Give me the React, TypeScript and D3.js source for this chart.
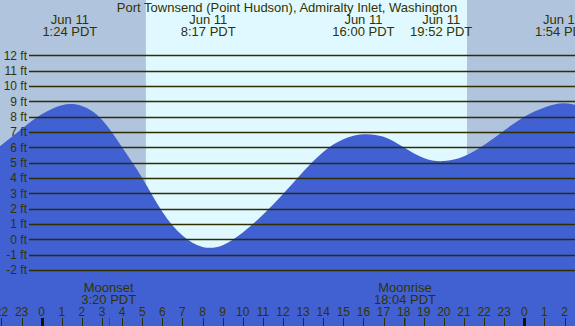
import { useRef, useEffect } from "react";
import * as d3 from "d3";

// tide heights (ft), hours from midnight Jun 11
const tideHours = [-3, -2, -1, 0, 1, 2, 3, 4, 5, 6, 7, 8, 9, 10, 11, 12, 13, 14, 15, 16, 17, 18, 19, 20, 21, 22, 23, 24, 25, 26, 27];
const tideFeet = [5.2, 6.15, 7.2, 8.15, 8.75, 8.7, 7.8, 6.0, 4.0, 1.8, 0.25, -0.5, -0.38, 0.45, 1.6, 2.95, 4.4, 5.7, 6.52, 6.85, 6.68, 6.0, 5.3, 5.1, 5.42, 6.15, 7.1, 8.0, 8.6, 8.87, 8.6];

const extremeHours = [1.4, 8.283, 16, 19.867, 25.9];
const extremeDates = ["Jun 11", "Jun 11", "Jun 11", "Jun 11", "Jun 12"];
const extremeTimes = ["1:24 PDT", "8:17 PDT", "16:00 PDT", "19:52 PDT", "1:54 PDT"];

const moonNames = ["Moonset", "Moonrise"];
const moonTimes = ["3:20 PDT", "18:04 PDT"];
const moonHours = [3.333, 18.067];

const sunriseHour = 5.18;
const sunsetHour = 21.15;

const feetTicks = [-2, -1, 0, 1, 2, 3, 4, 5, 6, 7, 8, 9, 10, 11, 12];
const hourTicks = d3.range(-2, 27);

const title = "Port Townsend (Point Hudson), Admiralty Inlet, Washington";

const TideChart = () => {
  const svgRef = useRef(null);

  useEffect(() => {
    d3.select(svgRef.current).selectAll("*").remove();

    const width = 575;
    const height = 326;
    const textColor = "#333300";
    const font = "'Liberation Sans', Arial, sans-serif";

    const x = d3.scaleLinear().domain([0, 24]).range([41.7, 524.3]);
    const y = d3.scaleLinear().domain([0, 12]).range([239.3, 55.3]);

    const svg = d3
      .select(svgRef.current)
      .attr("width", width)
      .attr("height", height);

    // night / day background
    svg.append("rect").attr("x", 0).attr("y", 0).attr("width", width).attr("height", height).attr("fill", "#b0c4de");
    svg
      .append("rect")
      .attr("x", x(sunriseHour))
      .attr("y", 0)
      .attr("width", x(sunsetHour) - x(sunriseHour))
      .attr("height", height)
      .attr("fill", "#e0f8ff");

    const area = d3
      .area()
      .x((d) => x(d[0]))
      .y0(height)
      .y1((d) => y(d[1]))
      .curve(d3.curveNatural);

    svg
      .append("path")
      .datum(tideHours.map((h, i) => [h, tideFeet[i]]))
      .attr("d", area)
      .attr("fill", "#4161d3");

    // grid lines + ft labels
    feetTicks.forEach((f) => {
      svg
        .append("line")
        .attr("x1", 29)
        .attr("x2", width)
        .attr("y1", Math.round(y(f)) + 0.5)
        .attr("y2", Math.round(y(f)) + 0.5)
        .attr("stroke", "#2e2e00")
        .attr("stroke-width", 1.5);
      svg
        .append("text")
        .attr("x", 27)
        .attr("y", y(f) + 4.5)
        .attr("text-anchor", "end")
        .style("font-family", font)
        .style("font-size", "12px")
        .attr("fill", textColor)
        .text(`${f} ft`);
    });

    svg
      .append("text")
      .attr("x", 287)
      .attr("y", 12)
      .attr("text-anchor", "middle")
      .style("font-family", font)
      .style("font-size", "13px")
      .attr("fill", textColor)
      .text(title);

    extremeHours.forEach((h, i) => {
      const t = svg
        .append("text")
        .attr("text-anchor", "middle")
        .style("font-family", font)
        .style("font-size", "13px")
        .attr("fill", textColor);
      t.append("tspan").attr("x", x(h)).attr("y", 24).text(extremeDates[i]);
      t.append("tspan").attr("x", x(h)).attr("y", 36).text(extremeTimes[i]);
    });

    moonHours.forEach((h, i) => {
      const t = svg
        .append("text")
        .attr("text-anchor", "middle")
        .style("font-family", font)
        .style("font-size", "13px")
        .attr("fill", textColor);
      t.append("tspan").attr("x", x(h)).attr("y", 291.5).text(moonNames[i]);
      t.append("tspan").attr("x", x(h)).attr("y", 304).text(moonTimes[i]);
      svg
        .append("line")
        .attr("x1", Math.round(x(h)) + 0.5)
        .attr("x2", Math.round(x(h)) + 0.5)
        .attr("y1", 318)
        .attr("y2", height)
        .attr("stroke", "red")
        .attr("stroke-width", 1);
    });

    // hour ticks
    hourTicks.forEach((h) => {
      const midnight = h % 24 === 0;
      svg
        .append("line")
        .attr("x1", Math.round(x(h)) + 0.5)
        .attr("x2", Math.round(x(h)) + 0.5)
        .attr("y1", 318)
        .attr("y2", height)
        .attr("stroke", midnight ? "#111100" : "#2e2e00")
        .attr("stroke-width", midnight ? 3 : 1);
      svg
        .append("text")
        .attr("x", x(h))
        .attr("y", 316)
        .attr("text-anchor", "middle")
        .style("font-family", font)
        .style("font-size", "12px")
        .attr("fill", textColor)
        .text(((h % 24) + 24) % 24);
    });
  }, []);

  return (
    <svg
      ref={svgRef}
      style={{ position: "absolute", left: 0, top: 0, display: "block" }}
    ></svg>
  );
};

export default function App() {
  return <TideChart />;
}
